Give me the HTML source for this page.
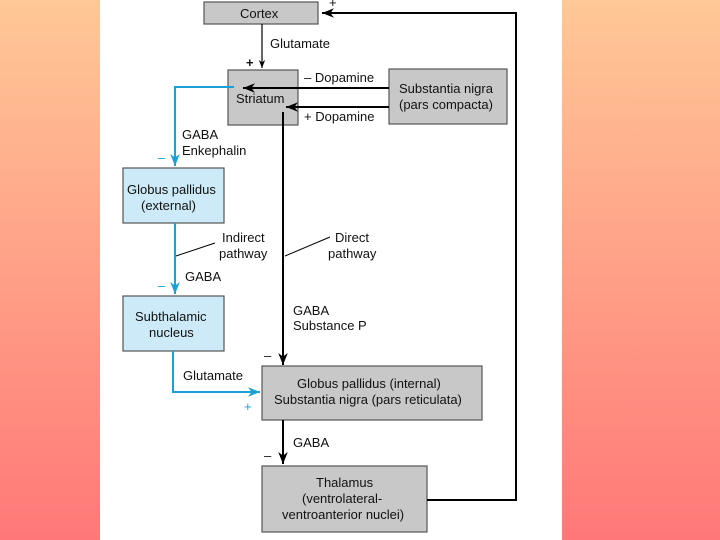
<!DOCTYPE html>
<html><head><style>
body{margin:0;width:720px;height:540px;overflow:hidden;background:linear-gradient(#ffc896,#ff7878);}
svg{position:absolute;left:0;top:0}
text{font-family:"Liberation Sans",sans-serif;font-size:13px;fill:#111}
</style></head><body>
<svg width="720" height="540">
<defs>
<marker id="a" viewBox="0 0 10 10" refX="10" refY="5" markerWidth="6" markerHeight="6" orient="auto"><path d="M0,1 L10,5 L0,9 L3,5z" fill="#000"/></marker>
<marker id="c" viewBox="0 0 10 10" refX="10" refY="5" markerWidth="8" markerHeight="8" orient="auto" markerUnits="userSpaceOnUse"><path d="M0,1 L10,5 L0,9 L3,5z" fill="#000"/></marker>
<marker id="b" viewBox="0 0 10 10" refX="10" refY="5" markerWidth="6" markerHeight="6" orient="auto"><path d="M0,1 L10,5 L0,9 L3,5z" fill="#1ba0d8"/></marker>
</defs>
<rect x="100" y="0" width="462" height="540" fill="#fff"/>
<g stroke="#555" stroke-width="1.2">
<rect x="204" y="2" width="114" height="22" fill="#c8c8c8"/>
<rect x="228" y="70" width="70" height="55" fill="#c8c8c8"/>
<rect x="389" y="69" width="118" height="55" fill="#c8c8c8"/>
<rect x="123" y="168" width="101" height="55" fill="#cdeaf8"/>
<rect x="123" y="296" width="101" height="55" fill="#cdeaf8"/>
<rect x="262" y="366" width="220" height="54" fill="#c8c8c8"/>
<rect x="262" y="466" width="165" height="66" fill="#c8c8c8"/>
</g>
<g fill="none" stroke="#000" stroke-width="2">
<path d="M262,24 V68" stroke-width="1.2" marker-end="url(#c)"/>
<path d="M389,88 H243" marker-end="url(#a)"/>
<path d="M389,107 H286" marker-end="url(#a)"/>
<path d="M283,112 V365" marker-end="url(#a)"/>
<path d="M283,420 V464" marker-end="url(#a)"/>
<path d="M427,500 H516 V13 H322" marker-end="url(#a)"/>
<path d="M176,256 L215,243" stroke-width="1"/>
<path d="M285,256 L330,237" stroke-width="1"/>
</g>
<g fill="none" stroke="#1ba0d8" stroke-width="2">
<path d="M234,87 H175 V166" marker-end="url(#b)"/>
<path d="M175,223 V294" marker-end="url(#b)"/>
<path d="M173,351 V392 H260" marker-end="url(#b)"/>
</g>
<text x="240" y="18">Cortex</text>
<text x="270" y="48">Glutamate</text>
<text x="246" y="67" font-weight="bold">+</text>
<text x="236" y="103">Striatum</text>
<text x="304" y="82">– Dopamine</text>
<text x="304" y="121">+ Dopamine</text>
<text x="399" y="93">Substantia nigra</text>
<text x="399" y="109">(pars compacta)</text>
<text x="182" y="139">GABA</text>
<text x="182" y="155">Enkephalin</text>
<text x="158" y="162" style="fill:#1ba0d8">–</text>
<text x="127" y="194">Globus pallidus</text>
<text x="141" y="210">(external)</text>
<text x="222" y="242">Indirect</text>
<text x="219" y="258">pathway</text>
<text x="335" y="242">Direct</text>
<text x="328" y="258">pathway</text>
<text x="185" y="281">GABA</text>
<text x="158" y="290" style="fill:#1ba0d8">–</text>
<text x="135" y="321">Subthalamic</text>
<text x="149" y="337">nucleus</text>
<text x="293" y="315">GABA</text>
<text x="293" y="330">Substance P</text>
<text x="264" y="360">–</text>
<text x="183" y="380">Glutamate</text>
<text x="244" y="411" style="fill:#1ba0d8">+</text>
<text x="297" y="388">Globus pallidus (internal)</text>
<text x="274" y="404">Substantia nigra (pars reticulata)</text>
<text x="293" y="447">GABA</text>
<text x="264" y="460">–</text>
<text x="316" y="487">Thalamus</text>
<text x="302" y="503">(ventrolateral-</text>
<text x="282" y="519">ventroanterior nuclei)</text>
<text x="329" y="7">+</text>
</svg>
</body></html>
